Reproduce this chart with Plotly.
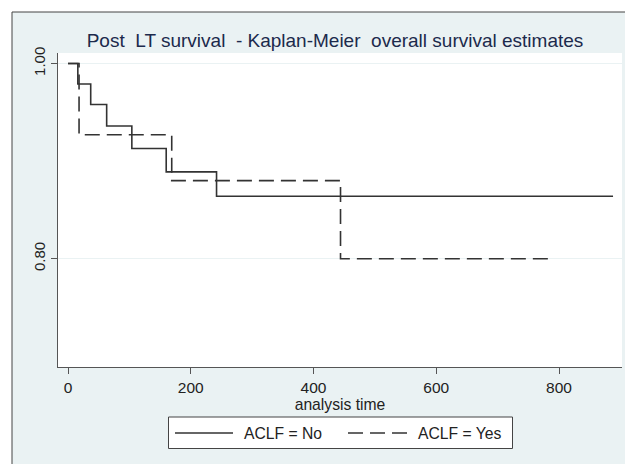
import plotly.graph_objects as go

# ---- data ----
no_time = [0, 16, 37, 63, 104, 160, 242, 888]
no_surv = [1.0, 0.979, 0.958, 0.936, 0.913, 0.889, 0.864, 0.864]
yes_time = [0, 18, 169, 444, 788]
yes_surv = [1.0, 0.927, 0.880, 0.800, 0.800]
x_ticks = [0, 200, 400, 600, 800]
y_ticks = [0.80, 1.00]
y_tick_labels = ["0.80", "1.00"]
series_names = ["ACLF = No", "ACLF = Yes"]
title_text = "Post\u00a0 LT survival\u00a0 - Kaplan-Meier\u00a0 overall survival estimates"

# the page has the browser's default 8px body margin
OFF = 8
W, H = 633 - OFF, 464 - OFF
# plot area in reference (window) pixels
L, R, T, B = 58, 622, 53, 367
FONT = "Liberation Sans, Arial, Helvetica, sans-serif"
BG = "#eaf2f3"
LINE = "#333333"
AX = "#555555"


def px(x):
    return (x - L) / (R - L)


def py(y):
    return (B - y) / (B - T)


fig = go.Figure()
fig.add_trace(go.Scatter(x=no_time, y=no_surv, mode="lines", line_shape="hv",
                         line=dict(color=LINE, width=1.6), name=series_names[0]))
fig.add_trace(go.Scatter(x=yes_time, y=yes_surv, mode="lines", line_shape="hv",
                         line=dict(color=LINE, width=1.6, dash="15px,7px"),
                         name=series_names[1]))

shapes = []
# white area outside the outer frame
shapes.append(dict(type="rect", xref="paper", yref="paper", layer="below",
                   x0=px(0), x1=px(12), y0=py(470), y1=py(0),
                   fillcolor="white", line=dict(width=0)))
shapes.append(dict(type="rect", xref="paper", yref="paper", layer="below",
                   x0=px(0), x1=px(640), y0=py(12), y1=py(0),
                   fillcolor="white", line=dict(width=0)))
# outer frame lines
shapes.append(dict(type="line", xref="paper", yref="paper",
                   x0=px(12), x1=px(12), y0=py(470), y1=py(12),
                   line=dict(color="#444444", width=1)))
shapes.append(dict(type="line", xref="paper", yref="paper",
                   x0=px(12), x1=px(640), y0=py(12), y1=py(12),
                   line=dict(color="#444444", width=1)))
# legend box
shapes.append(dict(type="rect", xref="paper", yref="paper",
                   x0=px(168.5), x1=px(512.5), y0=py(448.5), y1=py(417),
                   fillcolor="white", line=dict(color="#444444", width=1)))
ly = py(433)
shapes.append(dict(type="line", xref="paper", yref="paper",
                   x0=px(175), x1=px(233), y0=ly, y1=ly,
                   line=dict(color=LINE, width=1.6)))
shapes.append(dict(type="line", xref="paper", yref="paper",
                   x0=px(348), x1=px(407), y0=ly, y1=ly,
                   line=dict(color=LINE, width=1.6, dash="15px,7px")))

annotations = [
    dict(text=series_names[0], xref="paper", yref="paper", x=px(242), y=ly,
         xanchor="left", yanchor="middle", showarrow=False,
         font=dict(family=FONT, size=15.7, color="#222222")),
    dict(text=series_names[1], xref="paper", yref="paper", x=px(416), y=ly,
         xanchor="left", yanchor="middle", showarrow=False,
         font=dict(family=FONT, size=15.7, color="#222222")),
]

fig.update_layout(
    width=W, height=H,
    margin=dict(l=L - OFF, r=633 - R, t=T - OFF, b=464 - B, pad=0),
    paper_bgcolor=BG, plot_bgcolor="white",
    showlegend=False,
    font=dict(family=FONT, size=15, color="#222222"),
    title=dict(text=title_text, x=(335 - OFF) / W, xanchor="center",
               y=1 - (40 - OFF) / H, yanchor="middle", yref="container",
               font=dict(family=FONT, size=19, color="#1c2a4c")),
    shapes=shapes,
    annotations=annotations,
)
fig.update_xaxes(range=[-16.3, 902.6], tickvals=x_ticks, ticks="outside",
                 ticklen=6, tickcolor=AX, showline=True, linecolor=AX,
                 linewidth=1, showgrid=False, zeroline=False,
                 tickfont=dict(family=FONT, size=15.5, color="#222222"),
                 title=dict(text="analysis time", standoff=0,
                            font=dict(family=FONT, size=15.7, color="#222222")))
fig.update_yaxes(range=[0.689, 1.0108], tickvals=y_ticks, ticktext=y_tick_labels,
                 tickangle=-90, ticks="outside", ticklen=6, tickcolor=AX,
                 showline=True, linecolor=AX, linewidth=1,
                 showgrid=True, gridcolor=BG, gridwidth=1, zeroline=False,
                 tickfont=dict(family=FONT, size=15, color="#222222"))

fig.write_html("out.html")
